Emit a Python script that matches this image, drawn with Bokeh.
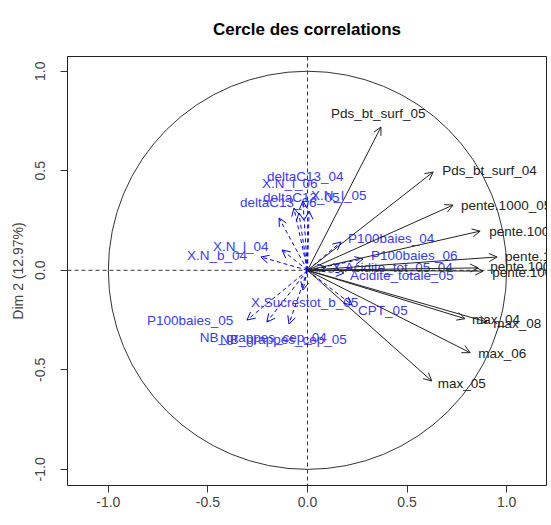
from bokeh.plotting import figure
from bokeh.models import (ColumnDataSource, Arrow, OpenHead, Span, Range1d,
                          FixedTicker, PrintfTickFormatter)
from bokeh.core.properties import value
from bokeh.embed import file_html
from bokeh.resources import INLINE

# ---- data (coordinates on Dim 1 / Dim 2) ----
act_names = ["Pds_bt_surf_05", "Pds_bt_surf_04", "pente.1000_05", "pente.1000_04",
             "pente.1000_06", "pente.100_05", "pente.100_04", "max_04", "max_08",
             "max_06", "max_05"]
act_x = [0.369, 0.631, 0.731, 0.867, 0.952, 0.857, 0.882, 0.791, 0.902, 0.817, 0.624]
act_y = [0.720, 0.494, 0.328, 0.197, 0.067, 0.012, -0.004, -0.243, -0.260, -0.414, -0.556]

sup_names = ["deltaC13_04", "X.N_l_06", "X.N_l_05", "deltaC13_06", "deltaC13_05",
             "X.N_l_04", "X.N_b_04", "P100baies_05", "NB_grappes_cep_04",
             "NB_grappes_cep_05", "X.Sucrestot_b_05", "CPT_05", "P100baies_04",
             "P100baies_06", "X.Acidite_tot_05_04", "Acidite_totale_05"]
sup_x = [-0.023, -0.068, 0.008, -0.143, -0.043, -0.128, -0.234, -0.304, -0.204,
         -0.093, -0.023, 0.224, 0.168, 0.279, 0.093, 0.183]
sup_y = [0.348, 0.313, 0.298, 0.263, 0.288, 0.102, 0.067, -0.250, -0.260,
         -0.270, -0.099, -0.174, 0.142, 0.057, 0.017, -0.014]

# label placement (screen px, relative to arrow tip; left edge / vertical middle)
act_dx = [-50, 9, 8, 9, 8, 12, 9, 7, 6, 8, 6]
act_dy = [-13, -1, 0, 0, 0, -1, 1, 1, 1, 1, 3]
sup_dx = [-36, -32, 2, -39, -36, -69, -74, -100, -67, -69, -52, 6, 7, 8, 6, 6]
sup_dy = [-25, -24, -15, -15, -15, -3, -1, 0, 15, 15, 12, 6, -4, -3, 1, 2]

x_ticks = [-1.0, -0.5, 0.0, 0.5, 1.0]
y_ticks = [-1.0, -0.5, 0.0, 0.5, 1.0]
title_text = "Cercle des correlations"
ylab = "Dim 2 (12.97%)"

FONT = "Liberation Sans"

p = figure(width=551, height=525, output_backend="svg", toolbar_location=None,
           x_range=Range1d(-1.205, 1.200), y_range=Range1d(-1.081, 1.074),
           min_border_left=67, min_border_right=5, min_border_top=55,
           min_border_bottom=40)
p.background_fill_color = "white"
p.border_fill_color = "white"
p.outline_line_color = "#222222"
p.outline_line_width = 1
p.grid.visible = False

p.title.text = title_text
p.title.align = "center"
p.title.text_font = FONT
p.title.text_font_size = "17px"
p.title.text_font_style = "bold"
p.title.text_color = "black"
p.title.standoff = 35

for ax, ticks in ((p.xaxis[0], x_ticks), (p.yaxis[0], y_ticks)):
    ax.ticker = FixedTicker(ticks=ticks)
    ax.formatter = PrintfTickFormatter(format="%.1f")
    ax.minor_tick_line_color = None
    ax.major_tick_in = 0
    ax.major_tick_out = 7
    ax.major_tick_line_color = "#333333"
    ax.axis_line_color = None
    ax.major_label_text_font = FONT
    ax.major_label_text_font_size = "14px"
    ax.major_label_text_color = "#444444"

p.xaxis.major_label_standoff = 4
p.yaxis.major_label_standoff = 15
p.yaxis.major_label_orientation = "vertical"
p.yaxis.axis_label = ylab
p.yaxis.axis_label_text_font = FONT
p.yaxis.axis_label_text_font_size = "14px"
p.yaxis.axis_label_text_font_style = "normal"
p.yaxis.axis_label_text_color = "#444444"
p.yaxis.axis_label_standoff = 7

# unit circle
p.ellipse(x=0, y=0, width=2, height=2, fill_color=None, line_color="#333333",
          line_width=1)

# dashed axes
p.add_layout(Span(location=0, dimension="width", line_color="#333333",
                  line_dash="4 3", line_width=1))
p.add_layout(Span(location=0, dimension="height", line_color="#333333",
                  line_dash="4 3", line_width=1))

# supplementary (blue dashed) arrows
sup_src = ColumnDataSource(dict(x0=[0.0] * len(sup_x), y0=[0.0] * len(sup_y),
                                x=sup_x, y=sup_y, name=sup_names,
                                dx=sup_dx, dy=sup_dy))
p.add_layout(Arrow(x_start="x0", y_start="y0", x_end="x", y_end="y",
                   source=sup_src, line_color="blue", line_width=1,
                   line_dash="4 3",
                   end=OpenHead(size=8, line_color="blue", line_width=1)))

# active (black) arrows
act_src = ColumnDataSource(dict(x0=[0.0] * len(act_x), y0=[0.0] * len(act_y),
                                x=act_x, y=act_y, name=act_names,
                                dx=act_dx, dy=act_dy))
p.add_layout(Arrow(x_start="x0", y_start="y0", x_end="x", y_end="y",
                   source=act_src, line_color="#222222", line_width=1,
                   end=OpenHead(size=8, line_color="#222222", line_width=1)))

p.text(x="x", y="y", text="name", x_offset="dx", y_offset="dy", source=sup_src,
       text_font=value(FONT), text_font_size="13.5px", text_color="#3a3aff",
       text_align="left", text_baseline="middle")
p.text(x="x", y="y", text="name", x_offset="dx", y_offset="dy", source=act_src,
       text_font=value(FONT), text_font_size="13.5px", text_color="#222222",
       text_align="left", text_baseline="middle")

open("out.html", "w").write(file_html(p, INLINE))
